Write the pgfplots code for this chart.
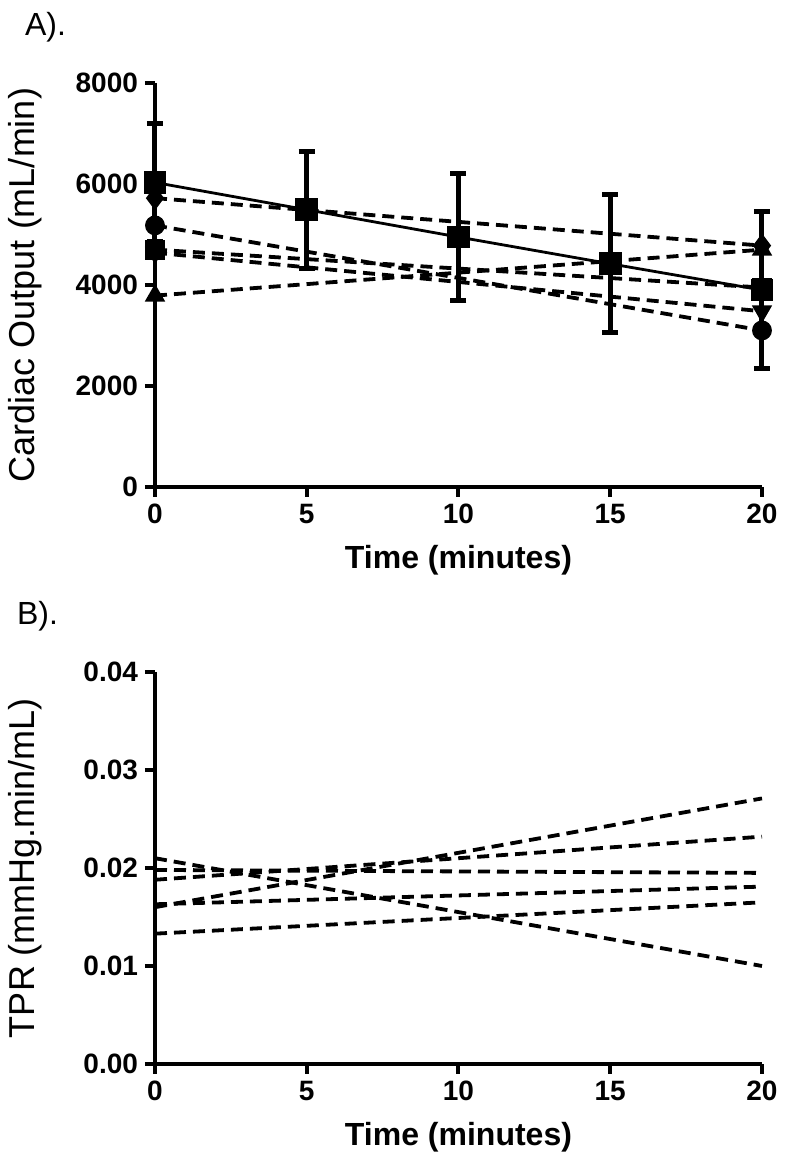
\documentclass[border=0pt]{standalone}
\usepackage{fontspec}
\setmainfont{Liberation Sans}
\usepackage{pgfplots}
\pgfplotsset{compat=1.18}
\begin{document}
\begin{tikzpicture}
\useasboundingbox (0pt,0pt) rectangle (392.5pt,581.5pt);
\pgfplotsset{
  panel/.style={
    scale only axis, width=303.5pt,
    axis lines=left, axis line style={line width=2pt,-},
    xmin=0, xmax=20, xtick={0,5,10,15,20},
    tick style={line width=2pt,black},
    major tick length=5pt, tick align=outside,
    tick label style={font=\fontsize{14}{14}\selectfont\bfseries},
    /pgf/number format/assume math mode=true,
    /pgf/number format/1000 sep={},
    x label style={font=\fontsize{16}{16}\selectfont\bfseries, at={(axis description cs:0.5,0)}, anchor=center, yshift=-36.5pt},
    y label style={font=\fontsize{18}{18}\selectfont, at={(axis description cs:-0.214,0.5)}, anchor=center},
    xlabel={Time (minutes)},
    clip=false,
  },
  subj/.style={black, dashed, dash pattern=on 6pt off 3.5pt, line width=1.9pt, mark options={solid, fill=black}, mark size=4pt},
}
\begin{axis}[panel, at={(77.5pt,338pt)}, anchor=south west, height=202pt,
  ymin=0, ymax=8000, ytick={0,2000,4000,6000,8000},
  ylabel={Cardiac Output (mL/min)}]
\addplot[subj, mark=diamond*, mark size=4.5pt] coordinates {(0,5720) (20,4780)};
\addplot[subj, mark=*] coordinates {(0,5180) (20,3100)};
\addplot[subj, mark=square*, mark size=4pt] coordinates {(0,4700) (20,3950)};
\addplot[subj, mark=triangle*, mark options={solid, fill=black, rotate=180}] coordinates {(0,4640) (20,3480)};
\addplot[subj, mark=triangle*] coordinates {(0,3790) (20,4700)};
\addplot[black, line width=1.4pt, mark=square*, mark size=5pt, mark options={fill=black},
  error bars/.cd, y dir=both, y explicit,
  error bar style={line width=2.5pt, black},
  error mark options={rotate=90, mark size=4pt, line width=2.5pt, black}]
  coordinates {
  (0,6030) +- (0,1170)
  (5,5490) +- (0,1160)
  (10,4950) +- (0,1250)
  (15,4420) +- (0,1370)
  (20,3900) +- (0,1550)
  };
\end{axis}
\begin{axis}[panel, at={(77.5pt,49.5pt)}, anchor=south west, height=196pt,
  ymin=0, ymax=0.04, ytick={0,0.01,0.02,0.03,0.04},
  scaled y ticks=false,
  yticklabel style={/pgf/number format/fixed, /pgf/number format/fixed zerofill, /pgf/number format/precision=2},
  ylabel={TPR (mmHg.min/mL)}]
\addplot[subj] coordinates {(0,0.0210) (20,0.0100)};
\addplot[subj] coordinates {(0,0.0198) (20,0.0195)};
\addplot[subj] coordinates {(0,0.0188) (20,0.0232)};
\addplot[subj] coordinates {(0,0.0160) (20,0.0271)};
\addplot[subj] coordinates {(0,0.0163) (20,0.0181)};
\addplot[subj] coordinates {(0,0.0133) (20,0.0165)};
\end{axis}
\node[anchor=west, font=\fontsize{16}{16}\selectfont] at (9pt,568pt) {A).};
\node[anchor=west, font=\fontsize{16}{16}\selectfont] at (5pt,273.5pt) {B).};
\end{tikzpicture}
\end{document}
